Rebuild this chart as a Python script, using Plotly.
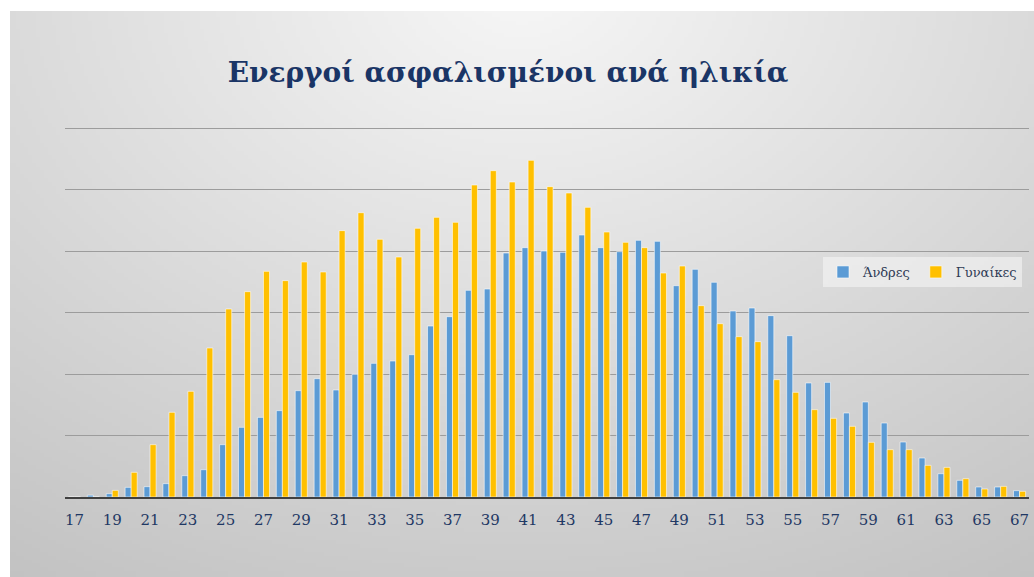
import base64
import math
import struct
import zlib

import plotly.graph_objects as go

ages = list(range(17, 68))
men = [0, 30, 54, 157, 168, 217, 347, 444, 851, 1133, 1295, 1404, 1729, 1924, 1740, 1995, 2173,
       2211, 2314, 2780, 2932, 3360, 3382, 3967, 4054, 4000, 3978, 4260, 4054, 3989, 4173, 4157,
       3436, 3702, 3491, 3024, 3073, 2949, 2623, 1854, 1864, 1366, 1545, 1203, 894, 634, 379,
       271, 163, 163, 103]
women = [0, 0, 108, 401, 851, 1377, 1718, 2423, 3057, 3339, 3669, 3518, 3821, 3659, 4331, 4623, 4190,
         3902, 4369, 4547, 4466, 5073, 5306, 5122, 5474, 5046, 4943, 4710, 4309, 4141, 4054, 3642,
         3756, 3111, 2818, 2607, 2526, 1908, 1702, 1420, 1279, 1149, 889, 770, 770, 515, 482,
         298, 130, 173, 92]
tick_ages = list(range(17, 68, 2))
series_names = ["Άνδρες", "Γυναίκες"]
title_text = "Ενεργοί ασφαλισμένοι ανά ηλικία"


def gradient_png(w=256, h=144):
    raw = bytearray()
    for j in range(h):
        raw.append(0)
        y = j / (h - 1)
        for i in range(w):
            x = i / (w - 1)
            d = math.sqrt(((x - 0.5) / 0.75) ** 2 + ((y + 0.05) / 1.0) ** 2)
            g = int(max(185, min(247, 247 - 42 * d)))
            raw += bytes((g, g, g))

    def chunk(tag, data):
        c = struct.pack(">I", len(data)) + tag + data
        return c + struct.pack(">I", zlib.crc32(tag + data) & 0xffffffff)

    png = b"\x89PNG\r\n\x1a\n"
    png += chunk(b"IHDR", struct.pack(">IIBBBBB", w, h, 8, 2, 0, 0, 0))
    png += chunk(b"IDAT", zlib.compress(bytes(raw), 9))
    png += chunk(b"IEND", b"")
    return "data:image/png;base64," + base64.b64encode(png).decode()


W, H = 1034, 577
L, R, T, B = 65, 5, 122, 80
pw, ph = W - L - R, H - T - B
ymax = ph / 61.5 * 1000

fig = go.Figure()
fig.add_trace(go.Bar(x=ages, y=men, name=series_names[0],
                     marker=dict(color="#5B9BD5", line=dict(color="rgba(255,255,255,0.8)", width=0.7))))
fig.add_trace(go.Bar(x=ages, y=women, name=series_names[1],
                     marker=dict(color="#FFC000", line=dict(color="rgba(255,255,255,0.8)", width=0.7))))

fig.update_layout(
    width=W, height=H,
    margin=dict(l=L, r=R, t=T, b=B),
    paper_bgcolor="white",
    plot_bgcolor="rgba(0,0,0,0)",
    barmode="group", bargap=0.36, bargroupgap=0,
    title=dict(text=title_text, x=(508 - L) / pw, xref="paper", xanchor="center",
               y=1 - 72 / H, yanchor="middle",
               font=dict(family="DejaVu Serif", size=28, color="#1A3566", weight="bold")),
    showlegend=True,
    legend=dict(orientation="h", x=(1022 - L) / pw, xanchor="right", y=(497 - 272) / ph, yanchor="middle",
                bgcolor="rgba(245,245,245,0.6)", font=dict(family="DejaVu Serif", size=13, color="#2F3B55"),
                itemwidth=30, traceorder="normal"),
    images=[dict(source=gradient_png(), xref="paper", yref="paper",
                 x=(10 - L) / pw, y=(497 - 11) / ph, sizex=(W - 10) / pw, sizey=(H - 11) / ph,
                 xanchor="left", yanchor="top", sizing="stretch", layer="below")],
    xaxis=dict(range=[16.5, 67.5], tickmode="array", tickvals=tick_ages, ticktext=[str(a) for a in tick_ages],
               showgrid=False, showline=True, linecolor="#404040", linewidth=2,
               ticks="outside", ticklen=8, tickcolor="rgba(0,0,0,0)",
               tickfont=dict(family="DejaVu Serif", size=15, color="#1F3864")),
    yaxis=dict(range=[0, ymax], tickvals=[1000, 2000, 3000, 4000, 5000, 6000], showgrid=True,
               gridcolor="#9C9C9C", gridwidth=1,
               showticklabels=False, zeroline=False, showline=False),
)

fig.write_html("out.html", post_script="document.body.style.margin='0px';",
               config={"displayModeBar": False})
